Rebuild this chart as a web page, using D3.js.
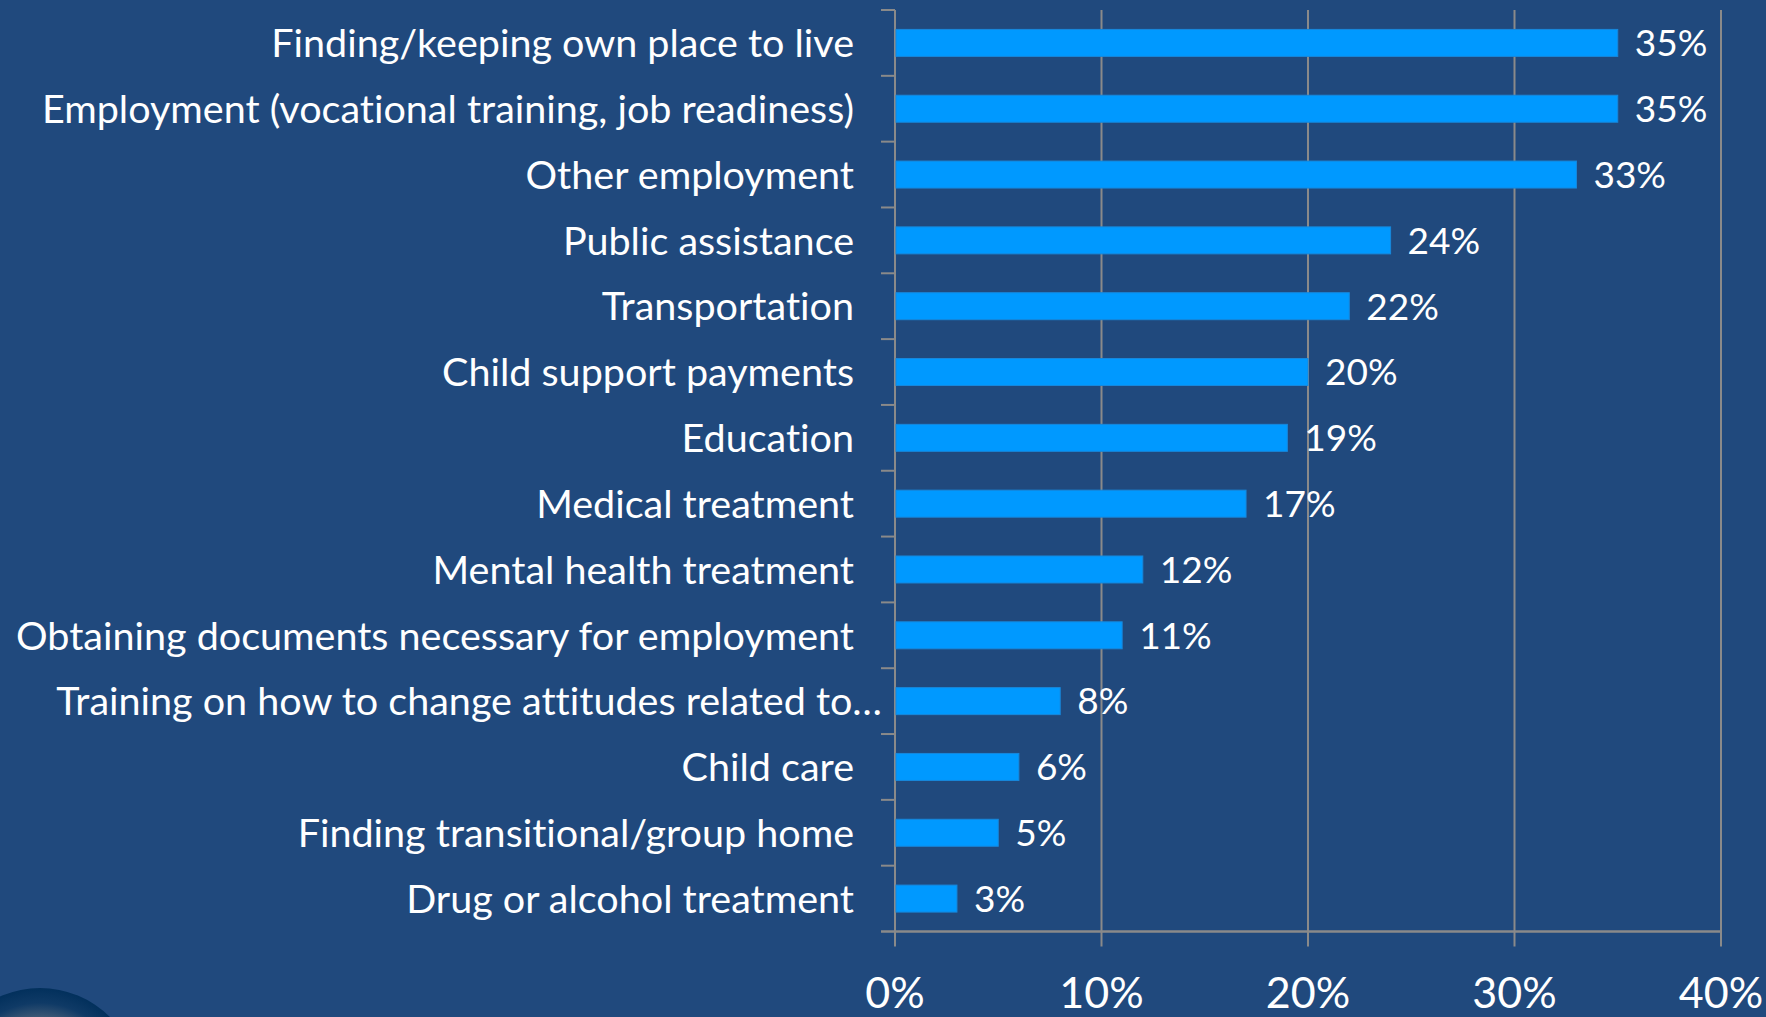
<!DOCTYPE html>
<html>
<head>
<meta charset="utf-8">
<script src="https://cdn.jsdelivr.net/npm/d3@7/dist/d3.min.js"></script>
<style>
  html, body { margin: 0; padding: 0; background: #20497d; }
  svg { display: block; }
  text { font-family: Lato, "Open Sans", sans-serif; fill: #ffffff; font-variant-ligatures: none; font-feature-settings: "liga" 0, "clig" 0; }
</style>
</head>
<body>
<svg id="chart" width="1766" height="1017"></svg>
<script>
// Share of respondents naming each need
const categories = [
  "Finding/keeping own place to live",
  "Employment (vocational training, job readiness)",
  "Other employment",
  "Public assistance",
  "Transportation",
  "Child support payments",
  "Education",
  "Medical treatment",
  "Mental health treatment",
  "Obtaining documents necessary for employment",
  "Training on how to change attitudes related to\u2026",
  "Child care",
  "Finding transitional/group home",
  "Drug or alcohol treatment"
];
const values = [0.35, 0.35, 0.33, 0.24, 0.22, 0.20, 0.19, 0.17, 0.12, 0.11, 0.08, 0.06, 0.05, 0.03];
const tickValues = [0, 0.1, 0.2, 0.3, 0.4];
const tickLabels = ["0%", "10%", "20%", "30%", "40%"];

const W = 1766, H = 1017;
const plot = { left: 895, right: 1721, top: 10, bottom: 931.5 };

const svg = d3.select("#chart");

// Decorative orb in the lower-left corner
const defs = svg.append("defs");
const grad = defs.append("radialGradient").attr("id", "orb")
  .attr("cx", "50%").attr("cy", "50%").attr("r", "50%");
grad.append("stop").attr("offset", "0%").attr("stop-color", "#9a9ea4");
grad.append("stop").attr("offset", "55%").attr("stop-color", "#6d7784");
grad.append("stop").attr("offset", "85%").attr("stop-color", "#0f3a66");
grad.append("stop").attr("offset", "100%").attr("stop-color", "#02305c");
svg.append("circle").attr("cx", 40).attr("cy", 1087).attr("r", 99)
  .attr("fill", "url(#orb)");

const x = d3.scaleLinear().domain([0, 0.4]).range([plot.left, plot.right]);
const y = d3.scaleBand().domain(categories)
  .range([plot.top, plot.bottom]).paddingInner(0.59).paddingOuter(0.295);

const gridColor = "#8a8a8a";

// Vertical gridlines (also serve as bottom tick marks)
svg.append("g").selectAll("line").data(tickValues).join("line")
  .attr("x1", d => x(d)).attr("x2", d => x(d))
  .attr("y1", plot.top).attr("y2", plot.bottom + 15)
  .attr("stroke", gridColor).attr("stroke-width", 2);

// Category separators on the left axis
const boundaries = d3.range(categories.length + 1).map(i => plot.top + i * y.step());
svg.append("g").selectAll("line").data(boundaries.slice(0, -1)).join("line")
  .attr("x1", plot.left - 14).attr("x2", plot.left)
  .attr("y1", d => d).attr("y2", d => d)
  .attr("stroke", gridColor).attr("stroke-width", 2);

// Bottom axis line
svg.append("line")
  .attr("x1", plot.left - 14).attr("x2", plot.right)
  .attr("y1", plot.bottom).attr("y2", plot.bottom)
  .attr("stroke", gridColor).attr("stroke-width", 2.5);

// Bars
svg.append("g").selectAll("rect").data(categories).join("rect")
  .attr("x", x(0) + 1)
  .attr("y", d => y(d))
  .attr("width", (d, i) => x(values[i]) - x(0) - 1)
  .attr("height", y.bandwidth())
  .attr("fill", "#0099ff")
  .attr("stroke", "#1788dc").attr("stroke-width", 1);

// Value labels
svg.append("g").selectAll("text").data(categories).join("text")
  .attr("x", (d, i) => x(values[i]) + 17)
  .attr("y", d => y(d) + y.bandwidth() / 2)
  .attr("dy", "0.36em")
  .attr("font-size", 37)
  .text((d, i) => Math.round(values[i] * 100) + "%");

// Category labels
svg.append("g").selectAll("text").data(categories).join("text")
  .attr("x", d => d.endsWith("\u2026") ? plot.left - 13 : plot.left - 41)
  .attr("y", d => y(d) + y.bandwidth() / 2)
  .attr("dy", "0.36em")
  .attr("text-anchor", "end")
  .attr("font-size", 39.5)
  .text(d => d);

// Axis tick labels
svg.append("g").selectAll("text").data(tickValues).join("text")
  .attr("x", d => x(d))
  .attr("y", 993)
  .attr("dy", "0.36em")
  .attr("text-anchor", "middle")
  .attr("font-size", 43)
  .text((d, i) => tickLabels[i]);
</script>
</body>
</html>
